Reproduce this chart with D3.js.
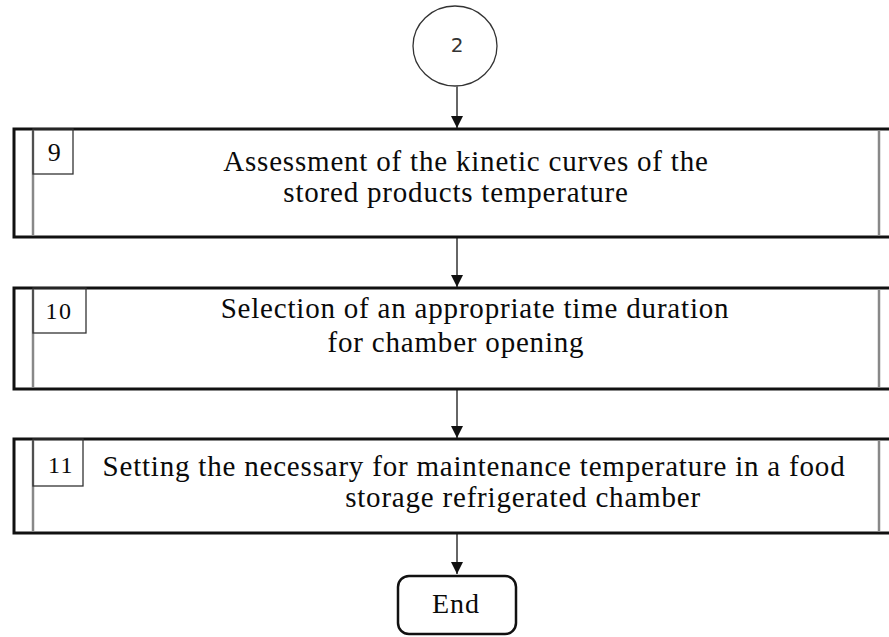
<!DOCTYPE html>
<html>
<head>
<meta charset="utf-8">
<script src="https://cdn.jsdelivr.net/npm/d3@7"></script>
<style>
  body { margin: 0; background: #fff; }
  text { font-family: "Liberation Serif", "Times New Roman", serif; fill: #0a0a0a; }
</style>
</head>
<body>
<div id="chart"></div>
<script>
// flowchart content
var connectorLabel = "2";
var stepNumbers = ["9", "10", "11"];
var stepLines = [
  ["Assessment of the kinetic curves of the", "stored products temperature"],
  ["Selection of an appropriate time duration", "for chamber opening"],
  ["Setting the necessary for maintenance temperature in a food", "storage refrigerated chamber"]
];
var endLabel = "End";

// layout (pixels)
var width = 889, height = 637;
var boxTop = [129, 288, 439],
    boxBottom = [237, 389, 533],
    numBoxW = [40, 53, 50],
    numBoxH = [45, 45, 47],
    numX = [55, 59, 61],
    numDy = [32, 31, 34],
    numSize = [26, 24, 24],
    lineX = [[466, 456], [475, 456], [474, 523]],
    lineY = [[171, 202], [318, 352], [476, 507]];
var cx = 457;

var svg = d3.select("#chart")
  .append("svg")
  .attr("width", width)
  .attr("height", height);

svg.append("defs").append("marker")
  .attr("id", "head")
  .attr("viewBox", "0 0 10 10")
  .attr("refX", 10).attr("refY", 5)
  .attr("markerWidth", 6).attr("markerHeight", 6)
  .attr("markerUnits", "strokeWidth")
  .attr("orient", "auto")
  .append("path")
  .attr("d", "M0,0 L10,5 L0,10 Z")
  .attr("fill", "#111");

// connector circle
svg.append("ellipse")
  .attr("cx", 455).attr("cy", 46)
  .attr("rx", 42).attr("ry", 40)
  .attr("fill", "#fff")
  .attr("stroke", "#333")
  .attr("stroke-width", 1.3);

svg.append("text")
  .attr("x", 457).attr("y", 52)
  .attr("text-anchor", "middle")
  .style("font-family", "'DejaVu Sans', sans-serif")
  .style("font-size", "20px")
  .style("fill", "#333")
  .text(connectorLabel);

// arrows
function arrow(y1, y2) {
  svg.append("line")
    .attr("x1", cx).attr("x2", cx)
    .attr("y1", y1).attr("y2", y2)
    .attr("stroke", "#666")
    .attr("stroke-width", 2)
    .attr("marker-end", "url(#head)");
}
arrow(86, boxTop[0] - 1);
arrow(boxBottom[0] + 1, boxTop[1] - 1);
arrow(boxBottom[1] + 1, boxTop[2] - 1);
arrow(boxBottom[2] + 1, 574);

// process boxes
var steps = svg.selectAll(".step")
  .data(stepNumbers)
  .enter().append("g")
  .attr("class", "step");

steps.append("rect")
  .attr("x", 14).attr("y", function (d, i) { return boxTop[i]; })
  .attr("width", 890)
  .attr("height", function (d, i) { return boxBottom[i] - boxTop[i]; })
  .attr("fill", "#fff")
  .attr("stroke", "#111")
  .attr("stroke-width", 3);

// inner gray side bars
steps.append("line")
  .attr("x1", 33).attr("x2", 33)
  .attr("y1", function (d, i) { return boxTop[i] + 1.5; })
  .attr("y2", function (d, i) { return boxBottom[i] - 1.5; })
  .attr("stroke", "#888").attr("stroke-width", 2.5);
steps.append("line")
  .attr("x1", 879).attr("x2", 879)
  .attr("y1", function (d, i) { return boxTop[i] + 1.5; })
  .attr("y2", function (d, i) { return boxBottom[i] - 1.5; })
  .attr("stroke", "#888").attr("stroke-width", 2.5);

// number tags
steps.append("rect")
  .attr("x", 33).attr("y", function (d, i) { return boxTop[i]; })
  .attr("width", function (d, i) { return numBoxW[i]; })
  .attr("height", function (d, i) { return numBoxH[i]; })
  .attr("fill", "none")
  .attr("stroke", "#333")
  .attr("stroke-width", 1.3);

steps.append("text")
  .attr("x", function (d, i) { return numX[i]; })
  .attr("y", function (d, i) { return boxTop[i] + numDy[i]; })
  .attr("text-anchor", "middle")
  .style("font-size", function (d, i) { return numSize[i] + "px"; })
  .style("letter-spacing", "1.5px")
  .text(function (d) { return d; });

steps.each(function (d, i) {
  d3.select(this).selectAll(".ln")
    .data(stepLines[i])
    .enter().append("text")
    .attr("class", "ln")
    .attr("x", function (t, j) { return lineX[i][j]; })
    .attr("y", function (t, j) { return lineY[i][j]; })
    .attr("text-anchor", "middle")
    .style("font-size", "29px")
    .style("letter-spacing", "0.8px")
    .text(function (t) { return t; });
});

// end terminal
svg.append("rect")
  .attr("x", 398).attr("y", 576)
  .attr("width", 118).attr("height", 58)
  .attr("rx", 11).attr("ry", 11)
  .attr("fill", "#fff")
  .attr("stroke", "#111")
  .attr("stroke-width", 2.5);

svg.append("text")
  .attr("x", 456).attr("y", 613)
  .attr("text-anchor", "middle")
  .style("font-size", "28px")
  .style("letter-spacing", "1px")
  .text(endLabel);
</script>
</body>
</html>
